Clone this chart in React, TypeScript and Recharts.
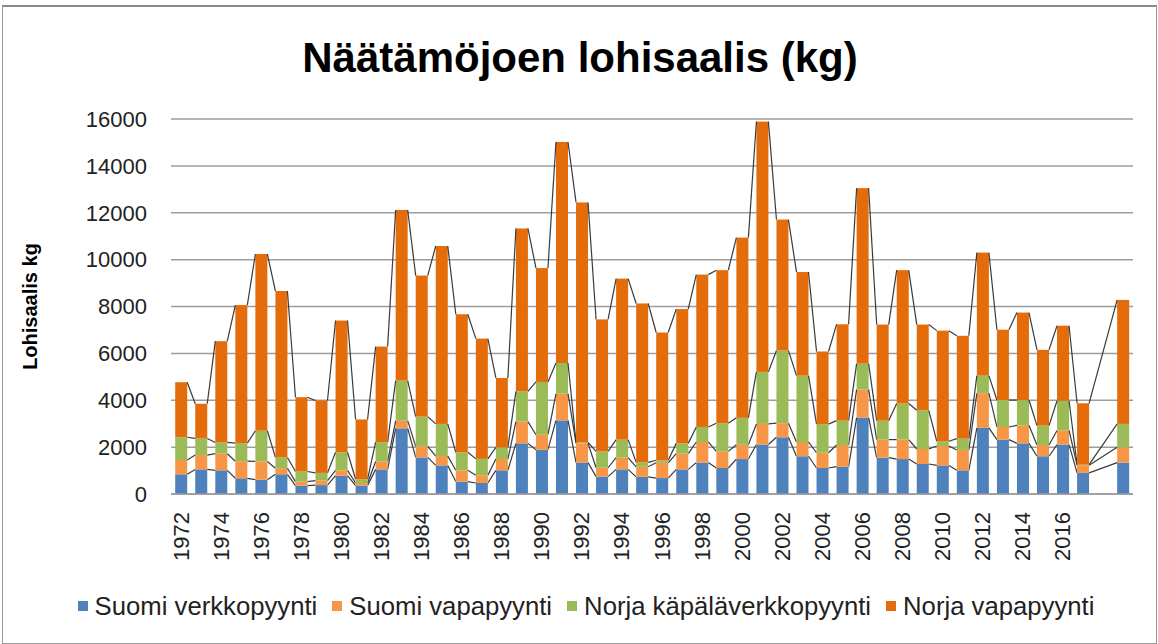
import React from 'react';
import { BarChart, Bar, XAxis, YAxis, CartesianGrid } from 'recharts';

const YEARS = [
  '1972', '1973', '1974', '1975', '1976', '1977', '1978', '1979', '1980', '1981',
  '1982', '1983', '1984', '1985', '1986', '1987', '1988', '1989', '1990', '1991',
  '1992', '1993', '1994', '1995', '1996', '1997', '1998', '1999', '2000', '2001',
  '2002', '2003', '2004', '2005', '2006', '2007', '2008', '2009', '2010', '2011',
  '2012', '2013', '2014', '2015', '2016', '2017', '', ' ',
];

const SUOMI_VERKKO = [
  840, 1050, 1010, 670, 610, 840, 360, 380, 780, 360,
  1050, 2800, 1560, 1220, 530, 470, 1010, 2160, 1890, 3140,
  1340, 740, 1050, 730, 680, 1050, 1340, 1110, 1490, 2110,
  2420, 1610, 1110, 1170, 3260, 1550, 1490, 1280, 1220, 1010,
  2820, 2320, 2160, 1610, 2110, 900, null, 1340,
];

const SUOMI_VAPA = [
  610, 610, 710, 730, 780, 260, 170, 190, 230, 110,
  340, 330, 470, 400, 480, 330, 480, 930, 640, 1140,
  820, 380, 500, 430, 650, 670, 880, 710, 610, 880,
  600, 610, 650, 920, 1200, 770, 830, 640, 830, 870,
  1480, 540, 770, 480, 600, 330, null, 650,
];

const NORJA_KAPALA = [
  970, 710, 480, 770, 1310, 460, 430, 330, 770, 160,
  820, 1710, 1270, 1370, 770, 700, 500, 1290, 2250, 1310,
  40, 700, 770, 190, 110, 440, 640, 1200, 1150, 2220,
  3100, 2830, 1220, 1040, 1100, 810, 1540, 1650, 200, 480,
  750, 1150, 1080, 830, 1270, 20, null, 1000,
];

const NORJA_VAPA = [
  2350, 1480, 4320, 5890, 7540, 7100, 3170, 3090, 5620, 2550,
  4080, 7280, 6020, 7590, 5890, 5130, 2960, 6950, 4860, 9430,
  10240, 5630, 6870, 6780, 5450, 5730, 6500, 6530, 7690, 10680,
  5590, 4420, 3100, 4110, 7490, 4100, 5690, 3660, 4720, 4390,
  5250, 3000, 3730, 3230, 3200, 2620, null, 5290,
];

const Y_TICKS = [0, 2000, 4000, 6000, 8000, 10000, 12000, 14000, 16000];

const SERIES = [
  { key: 'sv', name: 'Suomi verkkopyynti', color: '#4F81BD' },
  { key: 'sp', name: 'Suomi vapapyynti', color: '#F79646' },
  { key: 'nk', name: 'Norja käpäläverkkopyynti', color: '#9BBB59' },
  { key: 'nv', name: 'Norja vapapyynti', color: '#E46C0A' },
];

const data = YEARS.map((year, i) => ({
  year,
  sv: SUOMI_VERKKO[i],
  sp: SUOMI_VAPA[i],
  nk: NORJA_KAPALA[i],
  nv: NORJA_VAPA[i],
}));

const FONT = "'Liberation Sans', Arial, sans-serif";

// Excel style series lines: join the top right corner of each segment to the
// top left corner of the same segment in the next non-empty bar.
const lastCorner: Record<string, { x: number; y: number } | null> = {};

const segmentShape = (key: string) => (props: any) => {
  const { x, y, width, height, fill, index } = props;
  if (index === 0) lastCorner[key] = null;
  const row: any = data[index];
  if (!row || row[key] == null) return <g />;
  const prev = lastCorner[key];
  lastCorner[key] = { x: x + width, y };
  return (
    <g>
      <rect x={x} y={y} width={width} height={Math.max(height, 0)} fill={fill} />
      {prev && <line x1={prev.x} y1={prev.y} x2={x} y2={y} stroke="#3a3a3a" strokeWidth={1.2} />}
    </g>
  );
};

const YearTick = ({ x, y, payload }: any) => (
  <text
    x={x}
    y={y}
    transform={`rotate(-90, ${x}, ${y})`}
    textAnchor="end"
    dominantBaseline="central"
    fontSize={22}
    fontFamily={FONT}
    fill="#222"
  >
    {payload.value}
  </text>
);

export default function App() {
  return (
    <div style={{ position: 'absolute', left: 0, top: 0, width: 1158, height: 644, background: '#fff' }}>
      <div
        style={{
          position: 'absolute',
          left: 2,
          top: 5,
          width: 1153,
          height: 636,
          borderTop: '2px solid #8a8a8a',
          borderLeft: '1px solid #9a9a9a',
          borderRight: '1px solid #9a9a9a',
          borderBottom: '1px solid #9a9a9a',
        }}
      />
      <svg width={1158} height={100} style={{ position: 'absolute', left: 0, top: 0 }}>
        <text x={580} y={72} textAnchor="middle" fontSize={42} fontWeight="bold" fontFamily={FONT} fill="#000">
          Näätämöjoen lohisaalis (kg)
        </text>
      </svg>
      <div style={{ position: 'absolute', left: 0, top: 0 }}>
        <BarChart
          width={1158}
          height={644}
          data={data}
          margin={{ top: 119, right: 25, left: 0, bottom: 60 }}
          barCategoryGap="21%"
        >
          <CartesianGrid vertical={false} stroke="#9d9d9d" strokeWidth={1.5} />
          <XAxis
            dataKey="year"
            interval={1}
            tickLine={false}
            axisLine={{ stroke: '#9d9d9d', strokeWidth: 1.5 }}
            tickMargin={12}
            height={90}
            tick={<YearTick />}
          />
          <YAxis
            width={171}
            domain={[0, 16000]}
            ticks={Y_TICKS}
            axisLine={false}
            tickLine={false}
            tickMargin={18}
            tick={{ fontSize: 22, fontFamily: FONT, fill: '#222' }}
            label={{
              value: 'Lohisaalis kg',
              angle: -90,
              position: 'insideLeft',
              offset: 30,
              style: { textAnchor: 'middle', fontSize: 20, fontWeight: 'bold', fontFamily: FONT, fill: '#000' },
            }}
          />
          {SERIES.map((s) => (
            <Bar
              key={s.key}
              dataKey={s.key}
              name={s.name}
              stackId="a"
              fill={s.color}
              isAnimationActive={false}
              shape={segmentShape(s.key)}
            />
          ))}
        </BarChart>
      </div>
      <div
        style={{
          position: 'absolute',
          left: 7,
          top: 592,
          width: 1158,
          display: 'flex',
          justifyContent: 'center',
          alignItems: 'center',
          gap: 15,
          fontFamily: FONT,
          fontSize: 25.7,
          color: '#222',
          lineHeight: '28px',
        }}
      >
        {SERIES.map((s) => (
          <div key={s.key} style={{ display: 'flex', alignItems: 'center', gap: 7 }}>
            <span style={{ display: 'inline-block', width: 10, height: 10, background: s.color }} />
            <span>{s.name}</span>
          </div>
        ))}
      </div>
    </div>
  );
}
